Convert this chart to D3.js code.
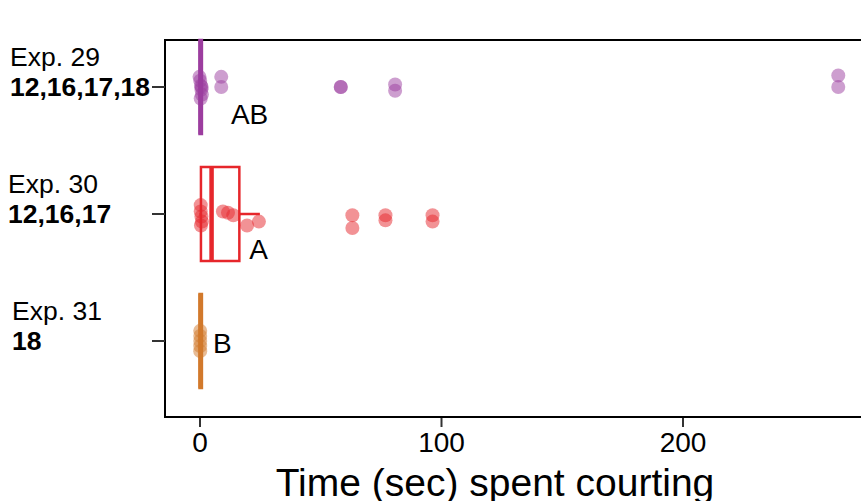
<!DOCTYPE html>
<html>
<head>
<meta charset="utf-8">
<script src="https://cdn.jsdelivr.net/npm/d3@7"></script>
<style>
  html, body { margin: 0; padding: 0; background: #fff; }
  svg { display: block; font-family: "Liberation Sans", Arial, sans-serif; }
</style>
</head>
<body>
<svg id="chart" width="861" height="501"></svg>
<script>
// Groups, top to bottom
const experiments = ["Exp. 29", "Exp. 30", "Exp. 31"];
const genotypes = ["12,16,17,18", "12,16,17", "18"];
const groupColors = ["#9c3d9f", "#e6262b", "#d2792b"];
const letters = ["AB", "A", "B"];

// Box summaries (seconds): lower whisker, Q1, median, Q3, upper whisker
const boxLow = [0, 0, 0];
const boxQ1 = [0, 0.6, 0];
const boxMedian = [0.5, 5, 0.5];
const boxQ3 = [1, 16.5, 1];
const boxHigh = [1, 25, 1];

// Individual observations: seconds, with vertical jitter (fraction of group spacing)
const exp29Times = [0, 0.3, 0.6, 0.8, 1, 0.5, 0.9, 9, 9, 58.5, 58.5, 81, 81, 264.5, 264.5];
const exp29Jitter = [-0.08, -0.05, -0.01, 0.02, 0.06, 0.09, 0.0, -0.08, 0.0, 0.0, 0.0, -0.02, 0.03, -0.09, 0.0];
const exp30Times = [0.5, 0.5, 0.8, 1, 0.6, 9.7, 11.8, 14, 19.7, 24.6, 63.3, 63.3, 77, 77, 96.5, 96.5];
const exp30Jitter = [-0.07, -0.02, 0.02, 0.06, 0.09, -0.02, -0.01, 0.01, 0.09, 0.06, 0.01, 0.11, 0.01, 0.05, 0.01, 0.06];
const exp31Times = [0.3, 0.3, 0.3, 0.3, 0.3];
const exp31Jitter = [-0.08, -0.04, 0.0, 0.04, 0.08];

const xTicks = [0, 100, 200];
const xTitle = "Time (sec) spent courting";

// ---- layout ----
const panel = { left: 165, top: 40, right: 863, bottom: 417 };
const svg = d3.select("#chart");
svg.append("rect").attr("width", 861).attr("height", 501).attr("fill", "#fff");

const x = d3.scaleLinear().domain([0, 200]).range([199.5, 682.5]);
const y = d3.scaleLinear().domain([0, 2]).range([87, 341]);
const halfBox = 47;

// panel frame
svg.append("rect")
  .attr("x", panel.left).attr("y", panel.top)
  .attr("width", panel.right - panel.left).attr("height", panel.bottom - panel.top)
  .attr("fill", "none").attr("stroke", "#000").attr("stroke-width", 2);

// x axis
const xAxis = svg.append("g")
  .attr("transform", `translate(0,${panel.bottom + 1})`)
  .call(d3.axisBottom(x).tickValues(xTicks).tickFormat(d3.format("d")).tickSize(9).tickPadding(5));
xAxis.select(".domain").remove();
xAxis.selectAll(".tick line").attr("stroke", "#333").attr("stroke-width", 2);
xAxis.selectAll(".tick text")
  .attr("fill", "#000").attr("font-size", 28)
  .attr("font-family", "Liberation Sans, Arial, sans-serif");

svg.append("text")
  .attr("x", 495).attr("y", 496)
  .attr("text-anchor", "middle")
  .attr("font-size", 39)
  .attr("fill", "#000")
  .text(xTitle);

// y ticks and two-line labels
const rowIndent = [10, 8, 12];
experiments.forEach((exp, i) => {
  const cy = y(i);
  svg.append("line")
    .attr("x1", panel.left - 13).attr("x2", panel.left)
    .attr("y1", cy).attr("y2", cy)
    .attr("stroke", "#333").attr("stroke-width", 2);
  svg.append("text")
    .attr("x", rowIndent[i]).attr("y", cy - 21)
    .attr("font-size", 26.5).attr("fill", "#000")
    .text(exp);
  svg.append("text")
    .attr("x", rowIndent[i]).attr("y", cy + 9)
    .attr("font-size", 26.5).attr("font-weight", "bold").attr("fill", "#000")
    .text(genotypes[i]);
});

// boxplots
experiments.forEach((exp, i) => {
  const cy = y(i);
  const g = svg.append("g").attr("stroke", groupColors[i]).attr("fill", "none");
  g.append("line")
    .attr("x1", x(boxQ3[i])).attr("x2", x(boxHigh[i]))
    .attr("y1", cy).attr("y2", cy).attr("stroke-width", 2.5);
  g.append("line")
    .attr("x1", x(boxLow[i])).attr("x2", x(boxQ1[i]))
    .attr("y1", cy).attr("y2", cy).attr("stroke-width", 2.5);
  g.append("rect")
    .attr("x", x(boxQ1[i])).attr("y", cy - halfBox)
    .attr("width", x(boxQ3[i]) - x(boxQ1[i])).attr("height", halfBox * 2)
    .attr("stroke-width", 2.5);
  g.append("line")
    .attr("x1", x(boxMedian[i])).attr("x2", x(boxMedian[i]))
    .attr("y1", cy - halfBox).attr("y2", cy + halfBox)
    .attr("stroke-width", 4.5);
});

// jittered points
const groups = [
  [exp29Times, exp29Jitter],
  [exp30Times, exp30Jitter],
  [exp31Times, exp31Jitter]
];
groups.forEach(([times, jit], i) => {
  svg.append("g")
    .selectAll("circle")
    .data(times.map((t, k) => ({ t, j: jit[k] })))
    .join("circle")
    .attr("cx", d => x(d.t))
    .attr("cy", d => y(i + d.j))
    .attr("r", 7)
    .attr("fill", groupColors[i])
    .attr("fill-opacity", 0.5);
});

// significance letters
const letterAt = [
  { v: 13, dy: 37 },
  { v: 20.6, dy: 45 },
  { v: 5.6, dy: 12 }
];
letters.forEach((L, i) => {
  svg.append("text")
    .attr("x", x(letterAt[i].v)).attr("y", y(i) + letterAt[i].dy)
    .attr("font-size", 28).attr("fill", "#000")
    .text(L);
});
</script>
</body>
</html>
